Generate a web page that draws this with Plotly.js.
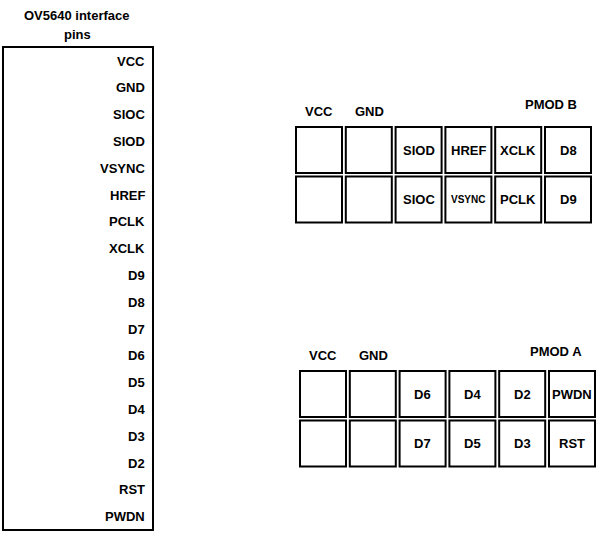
<!DOCTYPE html>
<html>
<head>
<meta charset="utf-8">
<script src="https://cdn.plot.ly/plotly-3.0.1.min.js"></script>
<style>html,body{margin:0;padding:0;background:#fff}#chart{width:598px;height:533px}</style>
</head>
<body>
<div id="chart"></div>
<script>
// Pin names on the OV5640 header, top to bottom
const cameraPins = ['VCC', 'GND', 'SIOC', 'SIOD', 'VSYNC', 'HREF', 'PCLK', 'XCLK',
  'D9', 'D8', 'D7', 'D6', 'D5', 'D4', 'D3', 'D2', 'RST', 'PWDN'];

// PMOD connectors: 6 columns x 2 rows, empty string = blank box
const pmodBTop = ['', '', 'SIOD', 'HREF', 'XCLK', 'D8'];
const pmodBBottom = ['', '', 'SIOC', 'VSYNC', 'PCLK', 'D9'];
const pmodATop = ['', '', 'D6', 'D4', 'D2', 'PWDN'];
const pmodABottom = ['', '', 'D7', 'D5', 'D3', 'RST'];

const font = { family: 'Liberation Sans, Arial, sans-serif', size: 13, color: '#000' };
const shapes = [];
const annotations = [];

function text(x, y, t, opts) {
  annotations.push(Object.assign({
    x, y, text: '<b>' + t + '</b>', showarrow: false, xref: 'x', yref: 'y', font
  }, opts || {}));
}

// camera header block
shapes.push({ type: 'rect', x0: 3, x1: 153, y0: 47, y1: 530, line: { color: '#000', width: 2 } });
text(77, 15, 'OV5640 interface');
text(77, 34, 'pins');
cameraPins.forEach((p, i) => text(147, 61 + i * 26.8, p, { xanchor: 'right' }));

// connector grid helper
function connector(x0, y0, name, nameX, nameY, top, bottom) {
  [top, bottom].forEach((row, r) => {
    row.forEach((lbl, c) => {
      const bx = x0 + c * 49.8, by = y0 + r * 49.5;
      shapes.push({ type: 'rect', x0: bx, x1: bx + 46, y0: by, y1: by + 46, line: { color: '#000', width: 2 } });
      if (lbl) {
        const small = lbl.length > 4;
        text(bx + 23, by + 23, lbl, small ? { font: Object.assign({}, font, { size: 10 }) } : {});
      }
    });
  });
  text(x0 + 23, y0 - 16, 'VCC');
  text(x0 + 73, y0 - 16, 'GND');
  text(nameX, nameY, name);
}

connector(296, 127, 'PMOD B', 551, 104, pmodBTop, pmodBBottom);
connector(300, 371, 'PMOD A', 556, 351, pmodATop, pmodABottom);

Plotly.newPlot('chart', [], {
  width: 598, height: 533,
  margin: { l: 0, r: 0, t: 0, b: 0 },
  paper_bgcolor: '#fff', plot_bgcolor: '#fff',
  xaxis: { range: [0, 598], visible: false, fixedrange: true },
  yaxis: { range: [533, 0], visible: false, fixedrange: true },
  shapes, annotations, showlegend: false
}, { displayModeBar: false, staticPlot: true });
</script>
</body>
</html>
